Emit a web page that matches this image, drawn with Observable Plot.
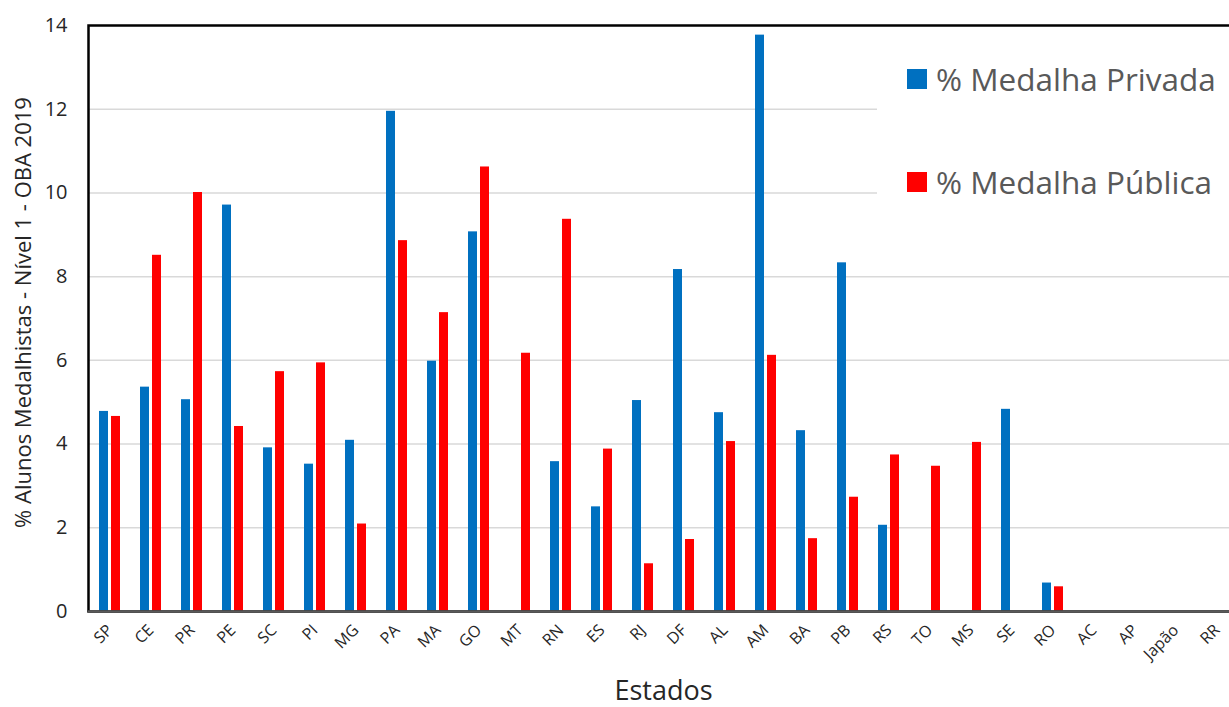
<!DOCTYPE html>
<html>
<head>
<meta charset="utf-8">
<script src="https://cdn.jsdelivr.net/npm/d3@7"></script>
<script src="https://cdn.jsdelivr.net/npm/@observablehq/plot@0.6"></script>
<style>
  html, body { margin: 0; padding: 0; background: #fff; overflow: hidden; }
  #wrap { position: relative; width: 1229px; height: 707px; font-family: "Open Sans", sans-serif; }
  #legend { position: absolute; left: 877px; top: 40px; width: 360px; height: 200px; background: #fff; }
  .item { position: absolute; left: 30px; display: flex; align-items: center; font-size: 31.5px; color: #595959; white-space: nowrap; }
  .sw { width: 20px; height: 20px; margin-right: 9px; }
</style>
</head>
<body>
<div id="wrap">
  <div id="chart"></div>
  <div id="legend"></div>
</div>
<script>
const states = ["SP","CE","PR","PE","SC","PI","MG","PA","MA","GO","MT","RN","ES","RJ","DF","AL","AM","BA","PB","RS","TO","MS","SE","RO","AC","AP","Japão","RR"];
const privada = [4.78,5.36,5.06,9.71,3.91,3.52,4.09,11.95,5.98,9.07,0,3.58,2.50,5.04,8.17,4.75,13.77,4.32,8.33,2.06,0,0,4.83,0.68,0,0,0,0];
const publica = [4.66,8.51,10.01,4.42,5.73,5.94,2.09,8.86,7.14,10.62,6.17,9.37,3.88,1.14,1.72,4.06,6.12,1.74,2.73,3.74,3.47,4.04,0,0.59,0,0,0,0];
const seriesNames = ["% Medalha Privada", "% Medalha Pública"];
const seriesColors = ["#0070C0", "#FF0000"];
const yTicks = [0,2,4,6,8,10,12,14];
const gridTicks = [2,4,6,8,10,12];
const yTitle = "% Alunos Medalhistas - Nível 1 - OBA 2019";
const xTitle = "Estados";

const data = states.map((s, i) => ({state: s, privada: privada[i], publica: publica[i]}));

const chart = Plot.plot({
  width: 1229,
  height: 707,
  marginTop: 25,
  marginBottom: 96,
  marginLeft: 88,
  marginRight: -9,
  style: {fontFamily: "'Open Sans', sans-serif", color: "#262626", background: "#fff"},
  x: {domain: states, paddingInner: 0.78, paddingOuter: 0.39, label: null},
  y: {domain: [0, 14], label: null},
  marks: [
    Plot.ruleY(gridTicks, {stroke: "#d9d9d9", strokeWidth: 1.5}),
    Plot.barY(data, {x: "state", y: "privada", fill: seriesColors[0], dx: -6}),
    Plot.barY(data, {x: "state", y: "publica", fill: seriesColors[1], dx: 6}),
    Plot.frame({stroke: "#000", strokeWidth: 2.5}),
    Plot.ruleY([0], {stroke: "#595959", strokeWidth: 2.5}),
    Plot.axisY(yTicks, {tickSize: 0, tickPadding: 21, fontSize: 20, label: null}),
    Plot.axisX({tickSize: 0, tickPadding: 16, tickRotate: -45, fontSize: 16, label: null}),
    Plot.text([yTitle], {frameAnchor: "left", textAnchor: "middle", rotate: -90, dx: -65, dy: -6, fontSize: 22, fill: "#262626"}),
    Plot.text([xTitle], {frameAnchor: "bottom", dy: 88, fontSize: 27, fill: "#262626"})
  ]
});
document.getElementById("chart").appendChild(chart);

const legend = document.getElementById("legend");
seriesNames.forEach((name, i) => {
  const item = document.createElement("div");
  item.className = "item";
  item.style.top = (i === 0 ? 17 : 120) + "px";
  const sw = document.createElement("span");
  sw.className = "sw";
  sw.style.background = seriesColors[i];
  const tx = document.createElement("span");
  tx.textContent = name;
  item.appendChild(sw);
  item.appendChild(tx);
  legend.appendChild(item);
});
</script>
</body>
</html>
